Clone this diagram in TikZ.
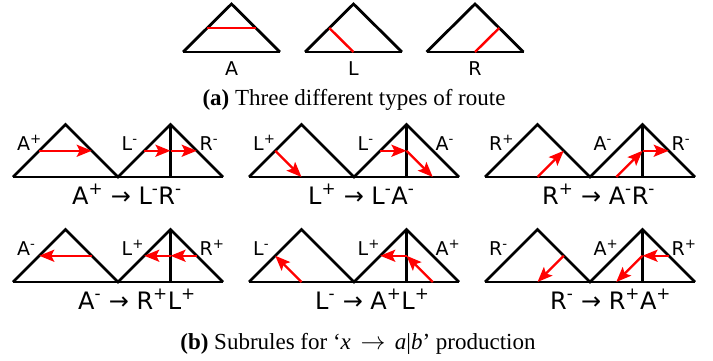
\documentclass[tikz,border=0pt]{standalone}
\usepackage{fontspec}
\setmainfont{Liberation Serif}
\newfontfamily\labfont{DejaVu Sans}
\usetikzlibrary{arrows.meta, calc}
\newcommand{\splus}{\textsuperscript{+}}
\newcommand{\sminus}{\textsuperscript{-}}

\begin{document}
\begin{tikzpicture}[
    x=1pt, y=-1pt,
    edge/.style={line width=2.8pt, black},
    route/.style={line width=2.4pt, red},
    hop/.style={route, -{Stealth[length=15pt, width=12pt, inset=3pt]}},
    tag/.style={font=\labfont\fontsize{19}{22}\selectfont, inner sep=0pt, anchor=base west},
    rulelab/.style={font=\labfont\fontsize{24}{28}\selectfont, inner sep=0pt, anchor=base west},
    caption/.style={font=\fontsize{23}{27}\selectfont, inner sep=0pt, anchor=base}
  ]
  \useasboundingbox (0,0) rectangle (713,361);

  % (a) three route types
  \foreach \n/\cx in {A/231.5, L/353.5, R/475}{
    \coordinate (\n-l) at (\cx-48.5,52);
    \coordinate (\n-t) at (\cx,4);
    \coordinate (\n-r) at (\cx+48.5,52);
    \draw[edge] (\n-l) -- (\n-t) -- (\n-r);
    \draw[edge] (\n-l) -- (\n-r);
    \node[tag, anchor=base] (\n-lab) at (\cx,76) {\n};
  }
  \draw[route] ($(A-l)!0.5!(A-t)$) -- ($(A-r)!0.5!(A-t)$);
  \draw[route] ($(L-l)!0.5!(L-t)$) -- ($(L-l)!0.5!(L-r)$);
  \draw[route] ($(R-l)!0.5!(R-r)$) -- ($(R-r)!0.5!(R-t)$);
  \node[caption] (capa) at (354,106) {\textbf{(a)} Three different types of route};

  % (b) subrule panels
  \foreach \p/\x/\y in {a1/13/177, a2/249/177, a3/485/177, b1/13/282, b2/249/282, b3/485/282}{
    \begin{scope}[shift={(\x,\y)}]
      \draw[edge] (0,0) -- (52.5,-52.5) -- (105,0) -- (157.5,-52.5) -- (210,0);
      \draw[edge] (0,0) -- (210,0);
      \draw[edge] (157.5,-52.5) -- (157.5,0);
      \coordinate (\p-ll) at (26.25,-26.25);
      \coordinate (\p-lr) at (78.75,-26.25);
      \coordinate (\p-lb) at (52.5,0);
      \coordinate (\p-rl) at (131.25,-26.25);
      \coordinate (\p-rv) at (157.5,-26.25);
      \coordinate (\p-rr) at (183.75,-26.25);
      \coordinate (\p-rbl) at (131.25,0);
      \coordinate (\p-rbr) at (183.75,0);
      \coordinate (\p-t1) at (4,-27);
      \coordinate (\p-t2) at (108.5,-27);
      \coordinate (\p-t3) at (186.5,-27);
    \end{scope}
  }

  % routes
  \draw[hop] (a1-ll) -- (a1-lr);
  \draw[hop] (a1-rl) -- (a1-rv);
  \draw[hop] (a1-rv) -- (a1-rr);
  \draw[hop] (a2-ll) -- (a2-lb);
  \draw[hop] (a2-rl) -- (a2-rv);
  \draw[hop] (a2-rv) -- (a2-rbr);
  \draw[hop] (a3-lb) -- (a3-lr);
  \draw[hop] (a3-rbl) -- (a3-rv);
  \draw[hop] (a3-rv) -- (a3-rr);
  \draw[hop] (b1-lr) -- (b1-ll);
  \draw[hop] (b1-rr) -- (b1-rv);
  \draw[hop] (b1-rv) -- (b1-rl);
  \draw[hop] (b2-lb) -- (b2-ll);
  \draw[hop] (b2-rbr) -- (b2-rv);
  \draw[hop] (b2-rv) -- (b2-rl);
  \draw[hop] (b3-lr) -- (b3-lb);
  \draw[hop] (b3-rr) -- (b3-rv);
  \draw[hop] (b3-rv) -- (b3-rbl);

  % labels
  \node[tag] (a1-x) at (a1-t1) {A\splus};
  \node[tag] (a1-a) at (a1-t2) {L\sminus};
  \node[tag] (a1-b) at (a1-t3) {R\sminus};
  \node[rulelab] (a1-rule) at (72,204) {A\splus{} → L\sminus R\sminus};
  \node[tag] (a2-x) at (a2-t1) {L\splus};
  \node[tag] (a2-a) at (a2-t2) {L\sminus};
  \node[tag] (a2-b) at (a2-t3) {A\sminus};
  \node[rulelab] (a2-rule) at (308,204) {L\splus{} → L\sminus A\sminus};
  \node[tag] (a3-x) at (a3-t1) {R\splus};
  \node[tag] (a3-a) at (a3-t2) {A\sminus};
  \node[tag] (a3-b) at (a3-t3) {R\sminus};
  \node[rulelab] (a3-rule) at (542,204) {R\splus{} → A\sminus R\sminus};
  \node[tag] (b1-x) at (b1-t1) {A\sminus};
  \node[tag] (b1-a) at (b1-t2) {L\splus};
  \node[tag] (b1-b) at (b1-t3) {R\splus};
  \node[rulelab] (b1-rule) at (78,309) {A\sminus{} → R\splus L\splus};
  \node[tag] (b2-x) at (b2-t1) {L\sminus};
  \node[tag] (b2-a) at (b2-t2) {L\splus};
  \node[tag] (b2-b) at (b2-t3) {A\splus};
  \node[rulelab] (b2-rule) at (315,309) {L\sminus{} → A\splus L\splus};
  \node[tag] (b3-x) at (b3-t1) {R\sminus};
  \node[tag] (b3-a) at (b3-t2) {A\splus};
  \node[tag] (b3-b) at (b3-t3) {R\splus};
  \node[rulelab] (b3-rule) at (550,309) {R\sminus{} → R\splus A\splus};
  \node[caption] (capb) at (358,349) {\textbf{(b)} Subrules for `\textit{x}\ \,$\rightarrow$\ \,\textit{a}|\textit{b}' production};
\end{tikzpicture}
\end{document}
